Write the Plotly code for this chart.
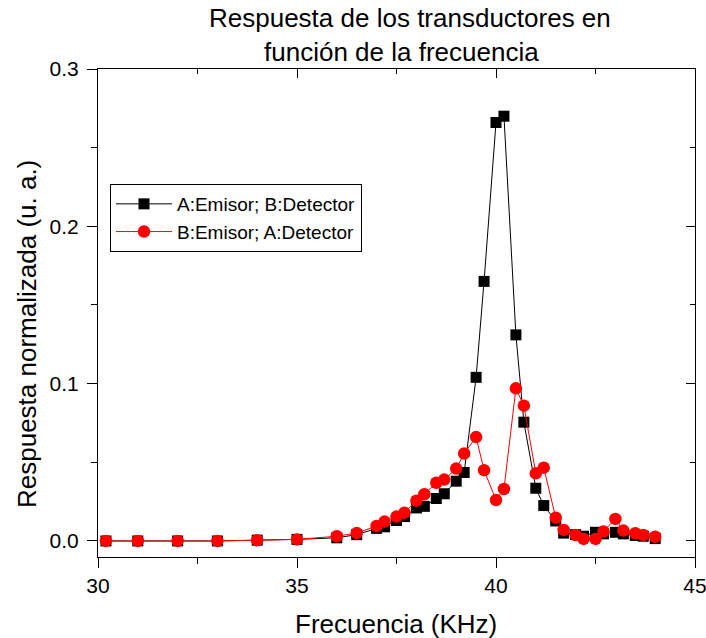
import plotly.graph_objects as go

freq = [30.2, 31, 32, 33, 34, 35, 36, 36.5, 37, 37.2, 37.5, 37.7, 38, 38.2, 38.5, 38.7, 39, 39.2,
        39.5, 39.7, 40, 40.2, 40.5, 40.7, 41, 41.2, 41.5, 41.7, 42, 42.2, 42.5, 42.7, 43, 43.2,
        43.5, 43.7, 44]
resp_a = [0, 0, 0, 0, 0.0005, 0.001, 0.002, 0.004, 0.008, 0.009, 0.013, 0.0155, 0.021, 0.022,
          0.027, 0.030, 0.038, 0.0435, 0.104, 0.165, 0.266, 0.270, 0.131, 0.0755, 0.0335, 0.0225,
          0.0127, 0.005, 0.004, 0.003, 0.0055, 0.0045, 0.0055, 0.0045, 0.0035, 0.003, 0.0015]
resp_b = [0, 0, 0, 0, 0.0005, 0.001, 0.003, 0.005, 0.0095, 0.0123, 0.0155, 0.018, 0.0256, 0.0297,
          0.037, 0.039, 0.046, 0.0556, 0.066, 0.045, 0.026, 0.033, 0.097, 0.086, 0.043, 0.0466,
          0.0148, 0.007, 0.0038, 0.0013, 0.0013, 0.006, 0.014, 0.0066, 0.0049, 0.0038, 0.0027]
names = ["A:Emisor; B:Detector", "B:Emisor; A:Detector"]
title_lines = ["Respuesta de los transductores en", "función de la frecuencia"]
x_title = "Frecuencia (KHz)"
y_title = "Respuesta normalizada (u. a.)"

FONT = "Liberation Sans, Arial, sans-serif"
XR = [30, 45]
YR = [-0.0102, 0.3]

fig = go.Figure()
fig.add_trace(go.Scatter(x=freq, y=resp_a, mode="lines+markers", name=names[0],
                         line=dict(color="black", width=1),
                         marker=dict(symbol="square", size=11, color="black")))
fig.add_trace(go.Scatter(x=freq, y=resp_b, mode="lines+markers", name=names[1],
                         line=dict(color="red", width=1),
                         marker=dict(symbol="circle", size=12.5, color="red")))
# invisible trace for mirrored top/right axes
fig.add_trace(go.Scatter(x=[XR[0]], y=[YR[0]], xaxis="x2", yaxis="y2", mode="markers",
                         marker=dict(opacity=0), showlegend=False, hoverinfo="skip"))

ann = [
    dict(text=title_lines[0], x=(410 - 98) / 597, y=(557 - 18) / 488),
    dict(text=title_lines[1], x=(401.5 - 98) / 597, y=(557 - 52) / 488),
    dict(text=x_title, x=(395.5 - 98) / 597, y=(557 - 624) / 488),
    dict(text=y_title, x=(27 - 98) / 597, y=(557 - 334) / 488, textangle=-90),
]
annotations = []
for a in ann:
    a.update(xref="paper", yref="paper", xanchor="center", yanchor="middle",
             showarrow=False, font=dict(size=26, family=FONT, color="black"))
    annotations.append(a)

fig.update_layout(
    width=706, height=638,
    margin=dict(l=98, r=11, t=69, b=81),
    paper_bgcolor="white", plot_bgcolor="white",
    font=dict(family=FONT, color="black"),
    annotations=annotations,
    xaxis=dict(range=XR, dtick=5, tick0=30, showgrid=False, zeroline=False, automargin=False,
               showline=True, linecolor="black", linewidth=1.2,
               ticks="outside", ticklen=10, tickcolor="black", ticklabeloverflow="allow",
               minor=dict(ticks="outside", dtick=2.5, ticklen=6, tickcolor="black"),
               tickfont=dict(size=21)),
    yaxis=dict(range=YR, dtick=0.1, tick0=0, tickformat=".1f", showgrid=False, zeroline=False,
               automargin=False, ticklabelstandoff=4,
               showline=True, linecolor="black", linewidth=1.2,
               ticks="outside", ticklen=10, tickcolor="black",
               minor=dict(ticks="outside", dtick=0.05, ticklen=6, tickcolor="black"),
               tickfont=dict(size=21)),
    xaxis2=dict(range=XR, overlaying="x", side="top", anchor="y", dtick=5, tick0=30,
                showticklabels=False, showgrid=False, zeroline=False, automargin=False,
                showline=True, linecolor="black", linewidth=1.2,
                ticks="inside", ticklen=9, tickcolor="black",
                minor=dict(ticks="inside", dtick=2.5, ticklen=5, tickcolor="black")),
    yaxis2=dict(range=YR, overlaying="y", side="right", anchor="x", dtick=0.1, tick0=0,
                showticklabels=False, showgrid=False, zeroline=False, automargin=False,
                showline=True, linecolor="black", linewidth=1.2,
                ticks="inside", ticklen=9, tickcolor="black",
                minor=dict(ticks="inside", dtick=0.05, ticklen=5, tickcolor="black")),
    legend=dict(x=(110 - 98) / 597, y=(557 - 184) / 488, xanchor="left", yanchor="top",
                bgcolor="white", bordercolor="black", borderwidth=1, itemwidth=56,
                font=dict(size=19, family=FONT), tracegroupgap=0),
    showlegend=True,
)

fig.write_html("out.html")
